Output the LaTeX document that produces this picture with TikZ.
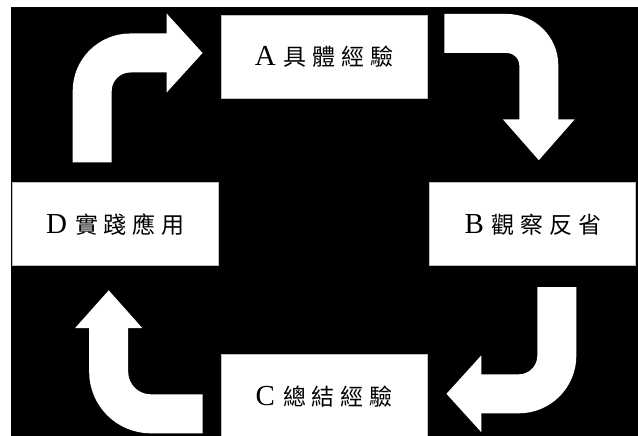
\documentclass[tikz,border=0pt]{standalone}
\usepackage{fontspec}
\setmainfont{Liberation Serif}
\newfontfamily\cjk[LetterSpace=25]{Noto Sans CJK TC}
\usetikzlibrary{positioning, arrows.meta}

\begin{document}
\begin{tikzpicture}[x=1pt, y=-1pt,
        box/.style = {rectangle, fill=white, draw=gray!50, line width=0.8pt,
                      minimum width=206pt, minimum height=83pt, inner sep=0pt,
                      font=\fontsize{29}{32}\selectfont},
       turn/.style = {draw=white, line width=39pt, rounded corners=38pt}
                        ]
\useasboundingbox (0,0) rectangle (638,436);
\fill[black] (11,7) rectangle (638,436);
% the four stages
\node (A) [box] at (324,56.5) {A\hspace{8pt}{\cjk\fontsize{23}{28}\selectfont 具體經驗}};
\node (D) [box, below left=84pt and 2pt of A] {D\hspace{8pt}{\cjk\fontsize{23}{28}\selectfont 實踐應用}};
\node (B) [box, below right=84pt and 2pt of A] {B\hspace{8pt}{\cjk\fontsize{23}{28}\selectfont 觀察反省}};
\node (C) [box, below=256pt of A] {C\hspace{8pt}{\cjk\fontsize{23}{28}\selectfont 總結經驗}};
% turning arrows
\draw[turn, -{Triangle[length=36pt, width=77pt]}]
    ([xshift=-23pt, yshift=20pt]D.north) |- ([xshift=-18pt, yshift=3.5pt]A.west);
\draw[turn, rounded corners=32pt, -{Triangle[length=41pt, width=69pt]}]
    ([xshift=17pt, yshift=23pt]A.east) -| ([xshift=6pt, yshift=22pt]B.north);
\draw[turn, -{Triangle[length=35pt, width=75pt]}]
    ([xshift=24pt, yshift=-21pt]B.south) |- ([xshift=19pt, yshift=2.5pt]C.east);
\draw[turn, rounded corners=42pt, -{Triangle[length=38pt, width=65pt]}]
    ([xshift=-18pt, yshift=-17.5pt]C.west) -| ([xshift=-6.5pt, yshift=-24pt]D.south);
\end{tikzpicture}
\end{document}
